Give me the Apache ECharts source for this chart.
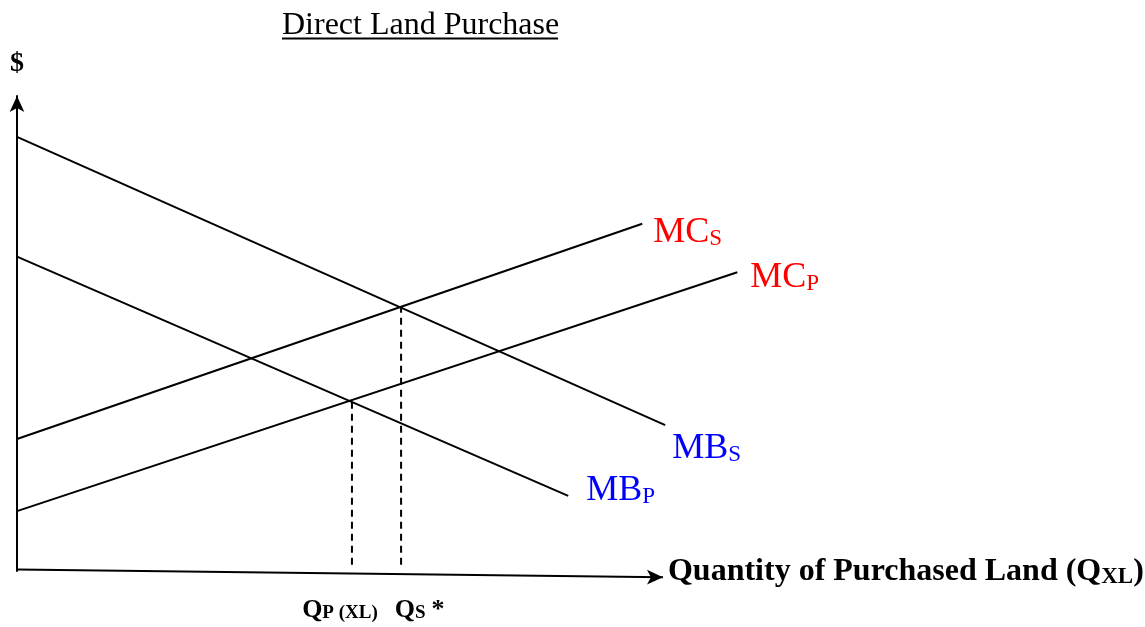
<!DOCTYPE html>
<html>
<head>
<meta charset="utf-8">
<script src="https://cdn.jsdelivr.net/npm/echarts@6/dist/echarts.min.js"></script>
<style>
  html, body { margin: 0; padding: 0; background: #fff; }
  #chart { width: 1145px; height: 627px; }
</style>
</head>
<body>
<div id="chart"></div>
<script>
// curve end points (x: quantity, y: $)
const mbS = [[0, 91.4], [101.6, 30.7]];
const mbP = [[0, 66.2], [86.4, 15.8]];
const mcS = [[0, 27.8], [98.0, 73.1]];
const mcP = [[0, 12.6], [112.9, 62.9]];
// dashed drop lines at the two equilibria
const qPrivate = [[52.5, 1.3], [52.5, 36.0]];
const qSocial = [[60.2, 1.3], [60.2, 55.6]];
// quantity axis (drawn slightly tilted, as in the original)
const qAxis = [[0, 0.3], [101.25, -1.3]];

const serif = "'Liberation Serif', 'Times New Roman', serif";

const curveRich = (color) => ({
  m: { fontFamily: serif, fontSize: 36, color: color, lineHeight: 40, verticalAlign: "bottom" },
  s: { fontFamily: serif, fontSize: 23, color: color, lineHeight: 22, verticalAlign: "bottom" },
});

const qRich = {
  m: { fontFamily: serif, fontSize: 26, fontWeight: "bold", color: "#000", lineHeight: 30, verticalAlign: "bottom" },
  s: { fontFamily: serif, fontSize: 19, fontWeight: "bold", color: "#000", lineHeight: 24, verticalAlign: "bottom" },
  a: { fontFamily: serif, fontSize: 26, fontWeight: "bold", color: "#000", lineHeight: 30, verticalAlign: "bottom", padding: [0, 0, 0, 6] },
};

const axisNameRich = {
  m: { fontFamily: serif, fontSize: 32, fontWeight: "bold", color: "#000", lineHeight: 36, verticalAlign: "bottom" },
  s: { fontFamily: serif, fontSize: 23, fontWeight: "bold", color: "#000", lineHeight: 29, verticalAlign: "bottom" },
};

function curve(name, pts, color, text, sub, offset) {
  const last = pts.length - 1;
  return {
    name: name,
    type: "line",
    clip: false,
    symbol: "circle",
    symbolSize: 0,
    lineStyle: { color: "#000", width: 2 },
    itemStyle: { color: "#000" },
    silent: true,
    data: pts.map((p, i) =>
      i === last
        ? {
            value: p,
            label: {
              show: true,
              position: "right",
              distance: 0,
              offset: offset,
              formatter: "{m|" + text + "}{s|" + sub + "}",
              rich: curveRich(color),
            },
          }
        : { value: p, label: { show: false } }
    ),
  };
}

function dropLine(pts, text, sub, offsetX) {
  return {
    type: "line",
    clip: false,
    symbol: "circle",
    symbolSize: 0,
    lineStyle: { color: "#000", width: 2, type: [7, 5] },
    silent: true,
    data: pts.map((p, i) =>
      i === 0
        ? {
            value: p,
            label: {
              show: true,
              position: "bottom",
              distance: 28,
              offset: [offsetX, 0],
              formatter: "{m|Q}{s|" + text + "}" + (sub ? "{a|" + sub + "}" : ""),
              rich: qRich,
            },
          }
        : { value: p, label: { show: false } }
    ),
  };
}

const chart = echarts.init(document.getElementById("chart"), null, { renderer: "canvas" });

chart.setOption({
  animation: false,
  backgroundColor: "#fff",
  title: {
    text: "Direct Land Purchase",
    left: 282,
    top: 10,
    padding: 0,
    textStyle: { fontFamily: serif, fontSize: 32, fontWeight: "normal", color: "#000" },
  },
  graphic: [
    {
      type: "line",
      shape: { x1: 282, y1: 38.5, x2: 558, y2: 38.5 },
      style: { stroke: "#000", lineWidth: 2 },
      silent: true,
    },
  ],
  grid: { left: 17, right: 362.4, top: 96, bottom: 56 },
  xAxis: {
    type: "value",
    min: 0,
    max: 120,
    axisLine: { show: false },
    axisTick: { show: false },
    axisLabel: { show: false },
    splitLine: { show: false },
  },
  yAxis: {
    type: "value",
    min: 0,
    max: 100,
    name: "$",
    nameLocation: "end",
    nameGap: 18,
    nameTextStyle: { fontFamily: serif, fontSize: 28, fontWeight: "bold", color: "#000", align: "center" },
    axisLine: { show: true, symbol: ["none", "arrow"], symbolSize: [11, 16], lineStyle: { color: "#000", width: 2 } },
    axisTick: { show: false },
    axisLabel: { show: false },
    splitLine: { show: false },
  },
  series: [
    {
      type: "line",
      clip: false,
      silent: true,
      lineStyle: { color: "#000", width: 2 },
      itemStyle: { color: "#000" },
      data: [
        { value: qAxis[0], symbol: "none" },
        {
          value: qAxis[1],
          symbol: "arrow",
          symbolSize: [11, 16],
          symbolRotate: -90,
          label: {
            show: true,
            position: "right",
            distance: 5,
            offset: [0, -7],
            formatter: "{m|Quantity of Purchased Land (Q}{s|XL}{m|)}",
            rich: axisNameRich,
          },
        },
      ],
    },
    curve("MBS", mbS, "#0000ff", "MB", "S", [7, 21]),
    curve("MBP", mbP, "#0000ff", "MB", "P", [18, -7.5]),
    curve("MCS", mcS, "#ff0000", "MC", "S", [11, 7]),
    curve("MCP", mcP, "#ff0000", "MC", "P", [13, 3.5]),
    dropLine(qPrivate, "P (XL)", "", -12),
    dropLine(qSocial, "S", "*", 18.5),
  ],
});

window.addEventListener("resize", () => chart.resize());
</script>
</body>
</html>
